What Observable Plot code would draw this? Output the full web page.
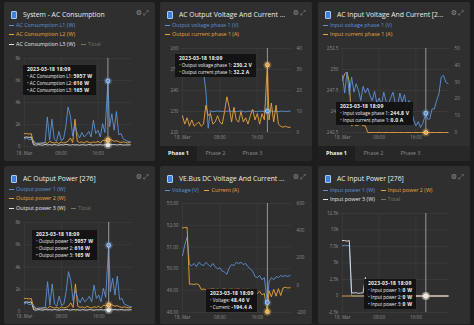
<!DOCTYPE html>
<html><head><meta charset="utf-8">
<script src="https://cdn.jsdelivr.net/npm/d3@7"></script>
<script src="https://cdn.jsdelivr.net/npm/@observablehq/plot@0.6"></script>
<style>
body{margin:0;background:#1d1d1d;width:474px;height:325px;overflow:hidden;font-family:"Open Sans",sans-serif;position:relative;}
.panel{position:absolute;background:#2f2f2f;border-radius:2px;overflow:hidden;}
.icon{position:absolute;left:7px;top:9px;width:4px;height:6px;background:#3f80d8;border:1px solid #a9c9f2;border-radius:1px;}
.title{position:absolute;left:19px;top:8px;font-size:6.8px;color:#ececec;white-space:nowrap;}
.tools{position:absolute;right:5px;top:7px;font-size:7px;color:#8d8d8d;font-family:"DejaVu Sans";letter-spacing:1px;}
.lrow{position:absolute;left:5px;font-size:5.4px;white-space:nowrap;line-height:7px;}
.lrow .it{margin-right:6px;}
.lrow .dash{display:inline-block;width:5px;height:1px;vertical-align:middle;margin-right:2px;}
.chart{position:absolute;left:0;}
.tip{position:absolute;background:rgba(17,17,17,0.93);color:#f0f0f0;font-size:4.5px;padding:1px 4px 1px 4px;line-height:7px;white-space:nowrap;box-sizing:border-box;}
.tip b{font-size:5px;letter-spacing:0.2px;}
.tabs{position:absolute;left:0;right:0;bottom:0;height:15px;background:#282828;font-size:5.5px;color:#8a8a8a;}
.tab{position:absolute;top:0;height:15px;line-height:15px;text-align:center;}
.tab.sel{background:#1f1f1f;color:#f4f4f4;font-weight:bold;}
</style></head>
<body>
<script>
// ---- time axis ----
const times = [0,0.5,1,1.5,2,2.5,3,3.5,4,4.5,5,5.5,
  6,6.5,7,7.5,8,8.5,9,9.5,10,10.5,11,11.5,
  12,12.5,13,13.5,14,14.5,15,15.5,16,16.5,17,17.5,
  18.15,18.5,19,19.5,20,20.5,21,21.5,22,22.5,23];
const xTicks = [0, 8, 16];
const xTickLabels = ["18. Mar", "08:00", "16:00"];
const cursorT = 18.15;
const cursorLabel = "2023-03-18 18:09";

// ---- AC consumption / output power (W) ----
const acL1 = [700,800,650,700,600,300,350,300,400,350,2700,600,
  2500,700,500,1400,600,700,1800,3600,2800,1000,1900,1200,
  800,1300,900,1100,1400,900,2400,1200,1500,900,2100,1300,
  5957,1800,3000,1500,3200,1100,1200,700,600,500,450];
const acL2 = [1200,1200,1150,1200,400,300,300,350,300,400,300,500,
  400,350,400,300,450,350,400,500,800,400,2500,500,
  400,450,350,500,400,350,450,400,500,350,600,550,
  616,700,600,500,550,450,400,450,400,350,400];
const acL3 = [850,900,850,900,200,150,200,180,150,220,170,200,
  160,210,180,150,200,170,230,180,160,200,170,190,
  150,200,170,160,210,180,150,190,170,200,160,180,
  165,200,180,210,170,190,200,160,180,170,190];
const powerTicks = [0,2000,4000,6000,8000];
const powerTickLabels = ["0","2k","4k","6k","8k"];

// ---- AC output voltage / current phase 1 ----
const outVoltage = [248.5,249,248.2,249.3,248.7,249,248.4,248.8,249.1,248.6,240,222,
  230.4,229.9,230.1,230.3,230,230.2,229.8,230.1,230.3,230,230.2,229.9,
  230.1,230.3,230,229.8,230.2,230.1,230.4,230,229.9,230.2,230.1,230,
  230.2,230.1,230.3,230,230.2,229.9,230.1,230.2,230,230.1,230.2];
const outCurrent = [8,4,7,3,6,3,4,5,3,4,13,8,
  9,4,5,8,5,4,10,17,12,5,12,6,
  5,10,5,7,4,8,11,6,9,4,9,6,
  32.2,6,14,5,13,4,3,2.5,3,2.5,2.5];
const outVTicks = [220,230,240,250,260];
const outATicks = [0,10,20,30,40];

// ---- AC input voltage / current phase 1 ----
const inVoltage = [249.3,247.2,249.7,247.0,249.1,247.3,248.3,247.5,246.3,248.0,247.2,247.8,
  246.9,246.3,247.4,246.0,246.6,245.8,247.3,246.2,245.9,246.6,247.3,246.0,
  245.6,247.2,246.1,247.0,245.5,246.3,245.2,244.0,243.3,243.8,243.1,243.6,
  244.8,244.1,244.1,245.3,245.3,246.3,247.1,249.1,249.3,248.5,248.3];
const inCurrent = [31,35,36,30,4,5,4,4.5,5,4,4,0,
  0,0,0,0,0,0,0,0,0,0,0,0,
  0,0,0,0,0,0,0,0,0,0,0,0,
  0.0,0,0,0,0,0,0,0,0,0,0];
const inVTicks = [242.5,245,247.5,250,252.5];
const inATicks = [0,10,20,30,40,50];

// ---- VE.Bus DC ----
const dcVoltage = [50.6,51.1,51.45,50.2,50.15,50.25,50.1,50.3,50.2,50.15,50.3,50.2,
  50.1,50.25,50.1,50.0,50.05,49.9,49.85,49.75,50.05,50.2,50.15,50.3,
  50.25,50.3,50.2,50.25,50.1,50.0,49.9,49.65,49.6,49.7,49.5,49.6,
  48.46,49.4,49.6,49.5,49.65,49.6,49.7,49.65,49.7,49.65,49.7];
const dcCurrent = [420,424,424,8,8,6,10,5,-30,-28,-32,-30,
  -30,-27,-31,-29,-33,-30,-28,-32,-30,-29,-31,-30,
  -28,-32,-30,-31,-29,-33,-35,-55,-60,-45,-70,-60,
  -194.4,-40,-85,-30,-80,-25,-75,-20,-15,-20,-18];
const dcVTicks = [48,49,50,51,52,53];
const dcATicks = [-200,0,200,400,600];

// ---- AC input power ----
const inPower1 = [7600,7700,7600,7700,0,0,0,0,0,0,0,0,
  0,0,0,0,0,0,0,0,0,0,0,0,
  0,0,0,0,0,0,0,0,0,0,0,0,
  0,0,0,0,0,0,0,0,0,0,0];
const inPower2 = [0,0,0,0,0,0,0,0,0,0,0,0,
  0,0,0,0,0,0,0,0,0,0,0,0,
  0,0,0,0,0,0,0,0,0,0,0,0,
  0,0,0,0,0,0,0,0,0,0,0];
const inPower3 = [8400,8400,8300,8400,500,450,500,400,450,500,2800,0,
  0,0,0,0,0,0,0,0,0,0,0,0,
  0,0,0,0,0,0,0,0,0,0,0,0,
  0,0,0,0,0,0,0,0,0,0,0];
const inPowerTicks = [-2500,0,2500,5000,7500,10000,12500];
const inPowerTickLabels = ["-2.5k","0","2.5k","5k","7.5k","10k","12.5k"];

// ---- styles ----
const BLUE = "#5c93d8", ORANGE = "#eaa43c", WHITE = "#e4e4e4", TOTAL = "#6e7a62";
const GRID = "#404040", LABEL = "#8d8d8d";
const xDomain = [-0.2, 23.3];

function linear(from, to) { // map a value from the right-axis range onto the left-axis range
  return v => to[0] + (v - from[0]) / (from[1] - from[0]) * (to[1] - to[0]);
}

function makePanel(p) {
  const el = document.createElement("div");
  el.className = "panel";
  Object.assign(el.style, {left: p.left + "px", top: p.top + "px", width: p.w + "px", height: p.h + "px"});
  el.innerHTML = `<div class="icon"></div><div class="title">${p.title}</div><div class="tools">⚙⤢</div>`;
  p.legend.forEach((row, ri) => {
    const r = document.createElement("div");
    r.className = "lrow";
    r.style.top = p.legendTops[ri] + "px";
    r.innerHTML = row.map(it => `<span class="it" style="color:${it.c}"><span class="dash" style="background:${it.c}"></span>${it.t}</span>`).join("");
    el.appendChild(r);
  });
  const o = p.chart;
  const marks = [];
  marks.push(Plot.ruleY(o.yTicks, {y: d => d, stroke: GRID, strokeWidth: 0.6}));
  marks.push(Plot.ruleX(xTicks, {x: d => d, stroke: GRID, strokeWidth: 0.6}));
  marks.push(Plot.text(o.yTicks, {x: () => xDomain[0], y: d => d, text: (d, i) => o.yLabels[i], textAnchor: "end", dx: -3, fill: LABEL, fontSize: 4.6}));
  if (o.rTicks) marks.push(Plot.text(o.rTicks, {x: () => xDomain[1], y: d => o.toLeft(d), text: (d, i) => o.rLabels[i], textAnchor: "start", dx: 5, fill: LABEL, fontSize: 4.6}));
  marks.push(Plot.text(xTicks, {x: d => d, y: () => o.yDomain[0], text: (d, i) => xTickLabels[i], dy: o.xdy, fill: LABEL, fontSize: 4.6}));
  const rowsOf = s => times.map((t, i) => ({t, v: s.right ? o.toLeft(s.values[i]) : s.values[i]}));
  o.series.forEach(s => marks.push(Plot.line(rowsOf(s), {x: "t", y: "v", stroke: s.c, strokeWidth: 0.9, strokeOpacity: s.op || 1})));
  marks.push(Plot.ruleX([cursorT], {x: d => d, stroke: "#b4b4b4", strokeWidth: 0.8}));
  o.series.forEach(s => {
    const at = rowsOf(s).filter(r => r.t === cursorT);
    marks.push(Plot.dot(at, {x: "t", y: "v", r: 4, fill: s.c, fillOpacity: 0.35}));
    marks.push(Plot.dot(at, {x: "t", y: "v", r: 2, fill: s.c, stroke: "#ffffff", strokeOpacity: 0.7, strokeWidth: 0.8}));
  });
  const svg = Plot.plot({
    width: 152, height: o.h,
    marginTop: o.mt, marginBottom: o.mb, marginLeft: o.ml, marginRight: o.mr,
    x: {domain: xDomain, axis: null},
    y: {domain: o.yDomain, axis: null},
    style: {background: "transparent", fontFamily: "Open Sans", overflow: "visible"},
    marks
  });
  const c = document.createElement("div");
  c.className = "chart";
  c.style.top = o.top + "px";
  c.appendChild(svg);
  el.appendChild(c);
  if (p.tabs) {
    const t = document.createElement("div");
    t.className = "tabs";
    t.innerHTML = `<div class="tab sel" style="left:0;width:37px">${p.tabs[0]}</div><div class="tab" style="left:37px;width:37px">${p.tabs[1]}</div><div class="tab" style="left:74px;width:37px">${p.tabs[2]}</div>`;
    el.appendChild(t);
  }
  const tp = document.createElement("div");
  tp.className = "tip";
  Object.assign(tp.style, {left: p.tip.left + "px", top: p.tip.top + "px"});
  tp.innerHTML = `<b>${cursorLabel}</b>` + p.tip.items.map(it => `<br><span style="color:${it.c}">•</span> ${it.t}`).join("");
  el.appendChild(tp);
  document.body.appendChild(el);
}

const outToLeft = linear([0, 40], [220, 260]);
const inToLeft = linear([0, 50], [242.5, 252.5]);
const dcToLeft = linear([-200, 600], [48, 53]);

makePanel({
  left: 4, top: 2, w: 151, h: 159, title: "System - AC Consumption",
  legendTops: [19.5, 29, 38.5],
  legend: [[{t: "AC Consumption L1 (W)", c: BLUE}], [{t: "AC Consumption L2 (W)", c: ORANGE}], [{t: "AC Consumption L3 (W)", c: WHITE}, {t: "Total", c: TOTAL}]],
  chart: {top: 50, h: 110, mt: 6, mb: 15, ml: 19, mr: 24, xdy: 7, yDomain: [0, 8000], yTicks: powerTicks, yLabels: powerTickLabels,
    series: [{values: acL3, c: WHITE}, {values: acL2, c: ORANGE}, {values: acL1, c: BLUE}]},
  tip: {left: 19, top: 63, items: [{c: BLUE, t: "AC Consumption L1: <b>5957 W</b>"}, {c: ORANGE, t: "AC Consumption L2: <b>616 W</b>"}, {c: WHITE, t: "AC Consumption L3: <b>165 W</b>"}]}
});
makePanel({
  left: 160, top: 2, w: 152, h: 159, title: "AC Output Voltage And Current ...",
  legendTops: [19.5, 28.5],
  legend: [[{t: "Output voltage phase 1 (V)", c: BLUE}], [{t: "Output current phase 1 (A)", c: ORANGE}]],
  chart: {top: 40, h: 100, mt: 6, mb: 10, ml: 21, mr: 21, xdy: 5, yDomain: [220, 260], yTicks: outVTicks, yLabels: outVTicks.map(String),
    rTicks: outATicks, rLabels: outATicks.map(String), toLeft: outToLeft,
    series: [{values: outVoltage, c: BLUE}, {values: outCurrent, c: ORANGE, right: true}]},
  tabs: ["Phase 1", "Phase 2", "Phase 3"],
  tip: {left: 15, top: 52, items: [{c: BLUE, t: "Output voltage phase 1: <b>230.2 V</b>"}, {c: ORANGE, t: "Output current phase 1: <b>32.2 A</b>"}]}
});
makePanel({
  left: 318, top: 2, w: 152, h: 159, title: "AC Input Voltage And Current [2...",
  legendTops: [19.5, 28.5],
  legend: [[{t: "Input voltage phase 1 (V)", c: BLUE}], [{t: "Input current phase 1 (A)", c: ORANGE}]],
  chart: {top: 40, h: 100, mt: 6, mb: 10, ml: 23, mr: 21, xdy: 5, yDomain: [242.5, 252.5], yTicks: inVTicks, yLabels: inVTicks.map(String),
    rTicks: inATicks, rLabels: inATicks.map(String), toLeft: inToLeft,
    series: [{values: inCurrent, c: ORANGE, right: true}, {values: inVoltage, c: BLUE}]},
  tabs: ["Phase 1", "Phase 2", "Phase 3"],
  tip: {left: 18, top: 100, items: [{c: BLUE, t: "Input voltage phase 1: <b>244.8 V</b>"}, {c: ORANGE, t: "Input current phase 1: <b>0.0 A</b>"}]}
});
makePanel({
  left: 4, top: 166, w: 151, h: 158, title: "AC Output Power [276]",
  legendTops: [19.5, 29, 38.5],
  legend: [[{t: "Output power 1 (W)", c: BLUE}], [{t: "Output power 2 (W)", c: ORANGE}], [{t: "Output power 3 (W)", c: WHITE}, {t: "Total", c: TOTAL}]],
  chart: {top: 50, h: 108, mt: 6, mb: 12, ml: 19, mr: 23, xdy: 5, yDomain: [0, 8000], yTicks: powerTicks, yLabels: powerTickLabels,
    series: [{values: acL3, c: WHITE}, {values: acL2, c: ORANGE}, {values: acL1, c: BLUE}]},
  tip: {left: 28, top: 64, items: [{c: BLUE, t: "Output power 1: <b>5957 W</b>"}, {c: ORANGE, t: "Output power 2: <b>616 W</b>"}, {c: WHITE, t: "Output power 3: <b>165 W</b>"}]}
});
makePanel({
  left: 160, top: 166, w: 152, h: 158, title: "VE.Bus DC Voltage And Current ...",
  legendTops: [20.5],
  legend: [[{t: "Voltage (V)", c: BLUE}, {t: "Current (A)", c: ORANGE}]],
  chart: {top: 31, h: 125, mt: 6, mb: 10, ml: 21, mr: 21, xdy: 5, yDomain: [48, 53], yTicks: dcVTicks, yLabels: dcVTicks.map(d => d.toFixed(2)),
    rTicks: dcATicks, rLabels: dcATicks.map(String), toLeft: dcToLeft,
    series: [{values: dcVoltage, c: BLUE}, {values: dcCurrent, c: ORANGE, right: true}]},
  tip: {left: 46, top: 123, items: [{c: BLUE, t: "Voltage: <b>48.46 V</b>"}, {c: ORANGE, t: "Current: <b>-194.4 A</b>"}]}
});
makePanel({
  left: 318, top: 166, w: 152, h: 158, title: "AC Input Power [276]",
  legendTops: [20.5, 29.5],
  legend: [[{t: "Input power 1 (W)", c: BLUE}, {t: "Input power 2 (W)", c: ORANGE}], [{t: "Input power 3 (W)", c: WHITE}, {t: "Total", c: TOTAL}]],
  chart: {top: 41, h: 115, mt: 6, mb: 10, ml: 23, mr: 21, xdy: 5, yDomain: [-2500, 12500], yTicks: inPowerTicks, yLabels: inPowerTickLabels,
    series: [{values: inPower1, c: BLUE}, {values: inPower2, c: ORANGE}, {values: inPower3, c: WHITE}]},
  tip: {left: 46, top: 113, items: [{c: BLUE, t: "Input power 1: <b>0 W</b>"}, {c: ORANGE, t: "Input power 2: <b>0 W</b>"}, {c: WHITE, t: "Input power 3: <b>0 W</b>"}]}
});
</script>
</body></html>
